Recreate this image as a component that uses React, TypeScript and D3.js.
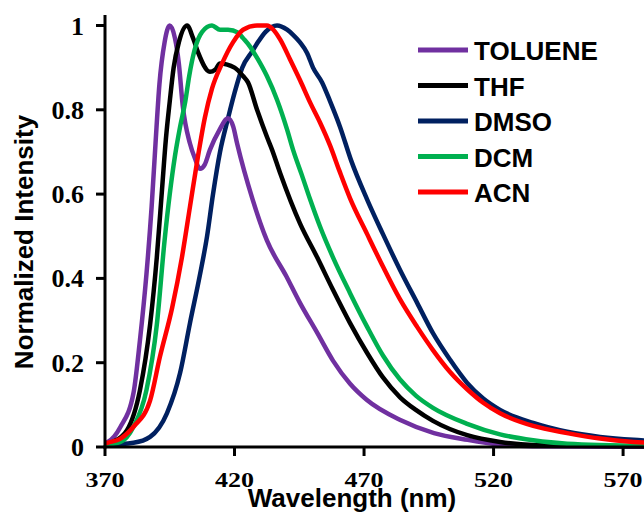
import * as d3 from 'd3'

// emission spectra: [wavelength (nm), normalized intensity]
const toluene: [number, number][] = [
  [370, 0.01], [371, 0.012], [376, 0.048], [381, 0.128], [383.5, 0.254], [386, 0.41], [388, 0.57],
  [389.5, 0.72], [391, 0.86], [393, 0.96], [395, 1.0], [397, 0.97], [398.5, 0.91], [400, 0.81],
  [402.8, 0.72], [404.7, 0.685], [406.7, 0.66], [408.5, 0.67], [410.5, 0.705], [414, 0.75],
  [417.5, 0.78], [419.5, 0.76], [421, 0.72], [427, 0.587], [432.5, 0.49], [440, 0.405],
  [445, 0.345], [452, 0.27], [458, 0.205], [464.6, 0.15], [471, 0.112], [484, 0.064], [497, 0.033],
  [510, 0.017], [522, 0.006], [535, 0.002], [580, 0],
]
const thf: [number, number][] = [
  [370, 0.005], [373, 0.012], [378.5, 0.04], [383.5, 0.135], [387.4, 0.29], [390, 0.45], [392, 0.61],
  [393.5, 0.73], [395, 0.82], [396.5, 0.9], [398.5, 0.96], [401.7, 1.0], [404, 0.97], [406, 0.935],
  [410.5, 0.89], [412.5, 0.895], [414.4, 0.91], [420, 0.9], [423.3, 0.88], [425.2, 0.865],
  [428.7, 0.8], [432.5, 0.736], [434.5, 0.705], [437.6, 0.65], [445.3, 0.53], [451.9, 0.45],
  [458, 0.373], [464.6, 0.294], [471.2, 0.223], [477.3, 0.165], [483.9, 0.118], [490, 0.088],
  [496.6, 0.062], [509.8, 0.028], [522.5, 0.012], [535.3, 0.005], [580, 0.002],
]
const dmso: [number, number][] = [
  [370, 0.005], [381, 0.01], [387.4, 0.024], [393.9, 0.08], [399, 0.176], [402.8, 0.294],
  [406.7, 0.41], [409.4, 0.5], [411.7, 0.6], [414.4, 0.7], [417.5, 0.78], [420, 0.84], [423, 0.9],
  [427, 0.94], [429, 0.96], [432, 0.985], [436.4, 1.0], [440.3, 0.99], [442.6, 0.978], [445.3, 0.96],
  [448, 0.935], [450.3, 0.9], [453.8, 0.865], [456.9, 0.82], [460.7, 0.76], [465, 0.68],
  [471.2, 0.587], [477.3, 0.505], [483.9, 0.42], [490.5, 0.342], [496.6, 0.27], [503.2, 0.207],
  [509.8, 0.152], [516, 0.115], [522.5, 0.088], [535.3, 0.057], [548.4, 0.036], [561.1, 0.024],
  [574, 0.017], [580, 0.015],
]
const dcm: [number, number][] = [
  [370, 0.005], [376, 0.012], [381, 0.048], [386, 0.135], [390, 0.29], [393, 0.49], [395, 0.6],
  [397, 0.69], [399, 0.76], [401, 0.82], [402.5, 0.88], [404.5, 0.94], [407.5, 0.985], [411.3, 1.0],
  [414.4, 0.99], [417.5, 0.99], [421.4, 0.983], [423.3, 0.97], [426, 0.95], [429, 0.92],
  [432.5, 0.88], [436.4, 0.824], [440.3, 0.753], [442.6, 0.705], [446, 0.645], [449.2, 0.587],
  [453, 0.523], [458, 0.45], [464.6, 0.365], [471.2, 0.285], [477.3, 0.217], [483.9, 0.16],
  [490, 0.122], [496.6, 0.093], [509.8, 0.055], [522.5, 0.03], [535.3, 0.016], [548.4, 0.008],
  [580, 0.003],
]
const acn: [number, number][] = [
  [370, 0.008], [371, 0.01], [376, 0.02], [381, 0.048], [387.4, 0.11], [391.2, 0.214],
  [395.9, 0.33], [399.7, 0.45], [402.8, 0.57], [405.9, 0.69], [408.5, 0.78], [411.3, 0.85],
  [415.2, 0.91], [419.4, 0.96], [423.3, 0.99], [428.7, 1.0], [432.5, 1.0], [435, 0.99],
  [437.6, 0.967], [441.4, 0.92], [445.3, 0.87], [449.2, 0.817], [453, 0.77], [456.9, 0.715],
  [460.5, 0.655], [464.6, 0.59], [471.2, 0.505], [477.3, 0.428], [483.9, 0.35], [490.5, 0.285],
  [496.6, 0.23], [503.2, 0.178], [509.8, 0.137], [516, 0.105], [522.5, 0.08], [535.3, 0.05],
  [548.4, 0.033], [561.1, 0.02], [574, 0.012], [580, 0.01],
]

const seriesNames = ['TOLUENE', 'THF', 'DMSO', 'DCM', 'ACN']
const seriesData = [toluene, thf, dmso, dcm, acn]
const seriesColors = ['#7030A0', '#000000', '#002060', '#00B050', '#FF0000']
// draw order: back to front
const drawOrder = [2, 0, 1, 3, 4]

const xTicks = [370, 420, 470, 520, 570]
const yTicks = [0, 0.2, 0.4, 0.6, 0.8, 1]

const W = 644
const H = 515

const App = () => {
  const x = d3.scaleLinear().domain([370, 580]).range([105, 649])
  const y = d3.scaleLinear().domain([0, 1]).range([447, 25.5])

  const line = d3
    .line<[number, number]>()
    .x((d) => x(d[0]))
    .y((d) => y(d[1]))
    .curve(d3.curveMonotoneX)

  const serif = '"Liberation Serif", "Times New Roman", serif'
  const sans = '"Liberation Sans", Arial, sans-serif'

  return (
    <svg
      width={W}
      height={H}
      style={{ position: 'absolute', left: 0, top: 0, background: '#fff' }}
    >
      <defs>
        <clipPath id="plot">
          <rect x={105} y={0} width={W - 105} height={449} />
        </clipPath>
      </defs>

      {/* curves */}
      <g clipPath="url(#plot)">
        {drawOrder.map((i) => (
          <path
            key={seriesNames[i]}
            d={line(seriesData[i]) ?? ''}
            fill="none"
            stroke={seriesColors[i]}
            strokeWidth={4.5}
            strokeLinejoin="round"
          />
        ))}
      </g>

      {/* axes */}
      <line x1={105} x2={105} y1={15} y2={448.5} stroke="#000" strokeWidth={3} />
      <line x1={103.5} x2={W} y1={447} y2={447} stroke="#000" strokeWidth={3} />
      {yTicks.map((t) => (
        <g key={`y${t}`}>
          <line x1={96} x2={105} y1={y(t)} y2={y(t)} stroke="#000" strokeWidth={3} />
          <text
            x={84}
            y={y(t) + 9}
            textAnchor="end"
            fontFamily={serif}
            fontWeight="bold"
            fontSize={26}
          >
            {t === 0 || t === 1 ? String(t) : t.toFixed(1)}
          </text>
        </g>
      ))}
      {xTicks.map((t) => (
        <g key={`x${t}`}>
          <line x1={x(t)} x2={x(t)} y1={447} y2={456} stroke="#000" strokeWidth={3} />
          {/* labels look squashed: wide digits cut short by the title band */}
          <text
            transform={`translate(${x(t)},487) scale(1.3,1)`}
            textAnchor="middle"
            fontFamily={serif}
            fontWeight="bold"
            fontSize={20}
          >
            {t}
          </text>
        </g>
      ))}

      <text
        x={352}
        y={507}
        textAnchor="middle"
        fontFamily={sans}
        fontWeight="bold"
        fontSize={26}
      >
        Wavelength (nm)
      </text>
      <text
        transform="translate(33,242) rotate(-90)"
        textAnchor="middle"
        fontFamily={sans}
        fontWeight="bold"
        fontSize={26}
      >
        Normalized Intensity
      </text>

      {/* legend */}
      {seriesNames.map((name, i) => {
        const ly = 50 + i * 35.5
        return (
          <g key={name}>
            <line x1={418} x2={468} y1={ly} y2={ly} stroke={seriesColors[i]} strokeWidth={5} />
            <text x={474} y={ly + 10} fontFamily={sans} fontWeight="bold" fontSize={26}>
              {name}
            </text>
          </g>
        )
      })}
    </svg>
  )
}

export default App
